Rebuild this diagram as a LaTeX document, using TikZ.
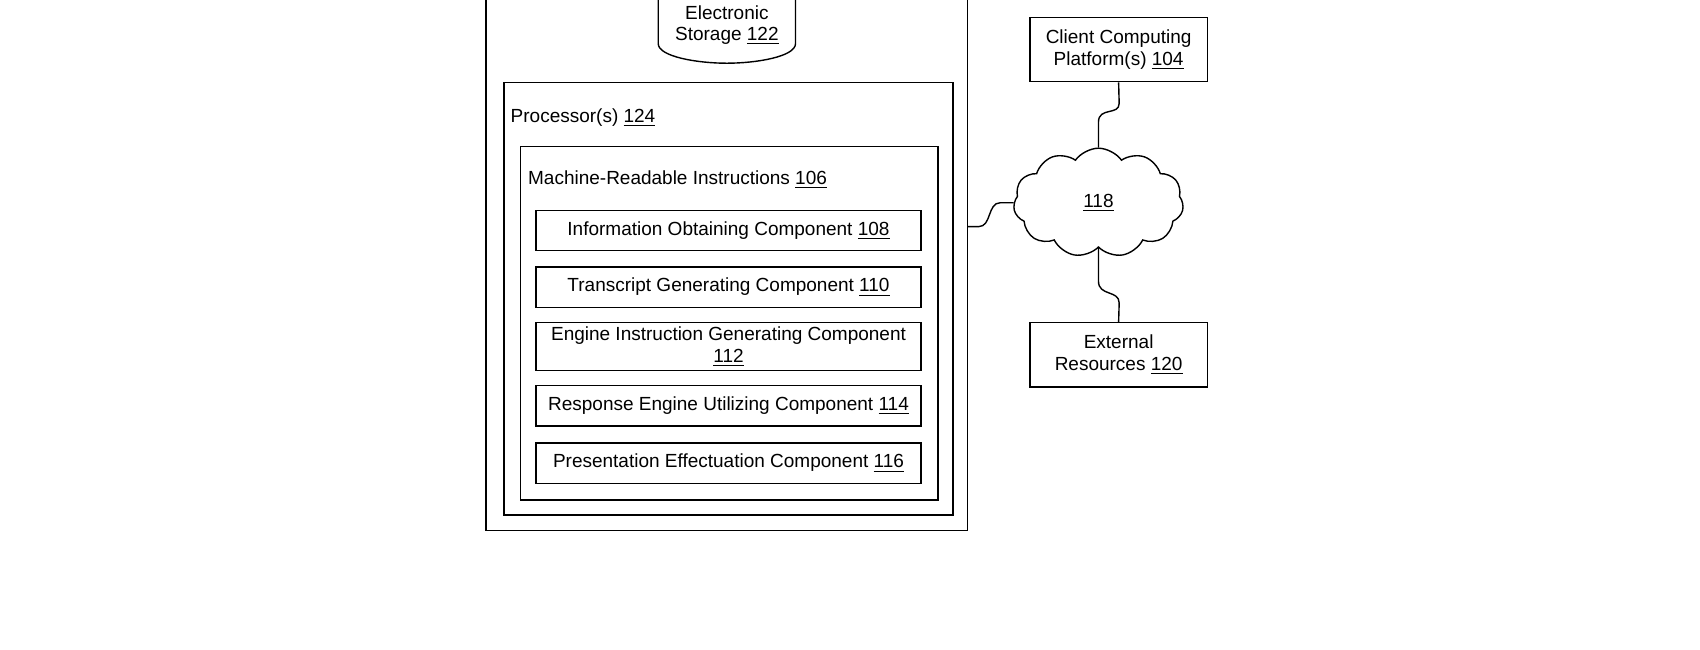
\documentclass[tikz,border=0pt]{standalone}
\usepackage{fontspec}
\setmainfont{Liberation Sans}
\usetikzlibrary{shapes.symbols}
\begin{document}
\begin{tikzpicture}[x=0.545pt,y=-0.545pt,line width=0.7pt,
  box/.style={draw,rectangle,minimum width=353*0.545pt,align=center,inner sep=1pt,font=\fontsize{9.5}{10.7}\selectfont},
  txt/.style={font=\fontsize{9.5}{10.7}\selectfont,align=center,inner sep=0pt},
  side/.style={draw,rectangle,minimum width=163*0.545pt,minimum height=59*0.545pt,align=center,font=\fontsize{9.5}{10.7}\selectfont,inner sep=1pt}]
\useasboundingbox (0,0) rectangle (1560,596);
% outer box
\draw (446,-5) -- (446,487) -- (888,487) -- (888,-5);
% storage
\draw (604,-5) -- (604,40) .. controls (604,52) and (640,58) .. (667,58) .. controls (694,58) and (730,52) .. (730,40) -- (730,-5);
\node[txt] (stor) at (667,23) {Electronic\\Storage \underline{122}};
% processor
\node[draw,minimum width=412*0.545pt,minimum height=397*0.545pt,anchor=north west,inner sep=0pt] (proc) at (462,75) {};
\node[txt,anchor=west] (procl) at (468,108) {Processor(s) \underline{124}};
\node[draw,minimum width=383*0.545pt,minimum height=324*0.545pt,anchor=north west,inner sep=0pt] (mri) at (477,134) {};
\node[txt,anchor=west] (mril) at (484,165) {Machine-Readable Instructions \underline{106}};
\node[box,minimum height=37*0.545pt] (c108) at (668.5,211.5) {Information Obtaining Component \underline{108}};
\node[box,minimum height=37*0.545pt] (c110) at (668.5,263.5) {Transcript Generating Component \underline{110}};
\node[box,minimum height=44*0.545pt] (c112) at (668.5,318) {Engine Instruction Generating Component\\\underline{112}};
\node[box,minimum height=37*0.545pt] (c114) at (668.5,372.5) {Response Engine Utilizing Component \underline{114}};
\node[box,minimum height=37*0.545pt] (c116) at (668.5,425) {Presentation Effectuation Component \underline{116}};
% right side
\node[side] (client) at (1026.5,45.5) {Client Computing\\Platform(s) \underline{104}};
\node[side] (ext) at (1026.5,325.5) {External\\Resources \underline{120}};
\node[cloud,draw,cloud puffs=11,cloud puff arc=110,aspect=1.55,minimum width=156*0.545pt,minimum height=100*0.545pt,inner sep=0pt,font=\fontsize{9.5}{10.7}\selectfont] (net) at (1008,186) {\underline{118}};
\coordinate (o) at (888,208);
\draw (o) -- (898,208) .. controls (910,208) and (906,186) .. (918,186) -- (net.west);
\draw (client.south) -- (1027,95) .. controls (1027,106) and (1008,98) .. (1008,112) -- (net.north);
\draw (ext.north) -- (1027,278) .. controls (1027,266) and (1008,272) .. (1008,258) -- (net.south);
\end{tikzpicture}
\end{document}
